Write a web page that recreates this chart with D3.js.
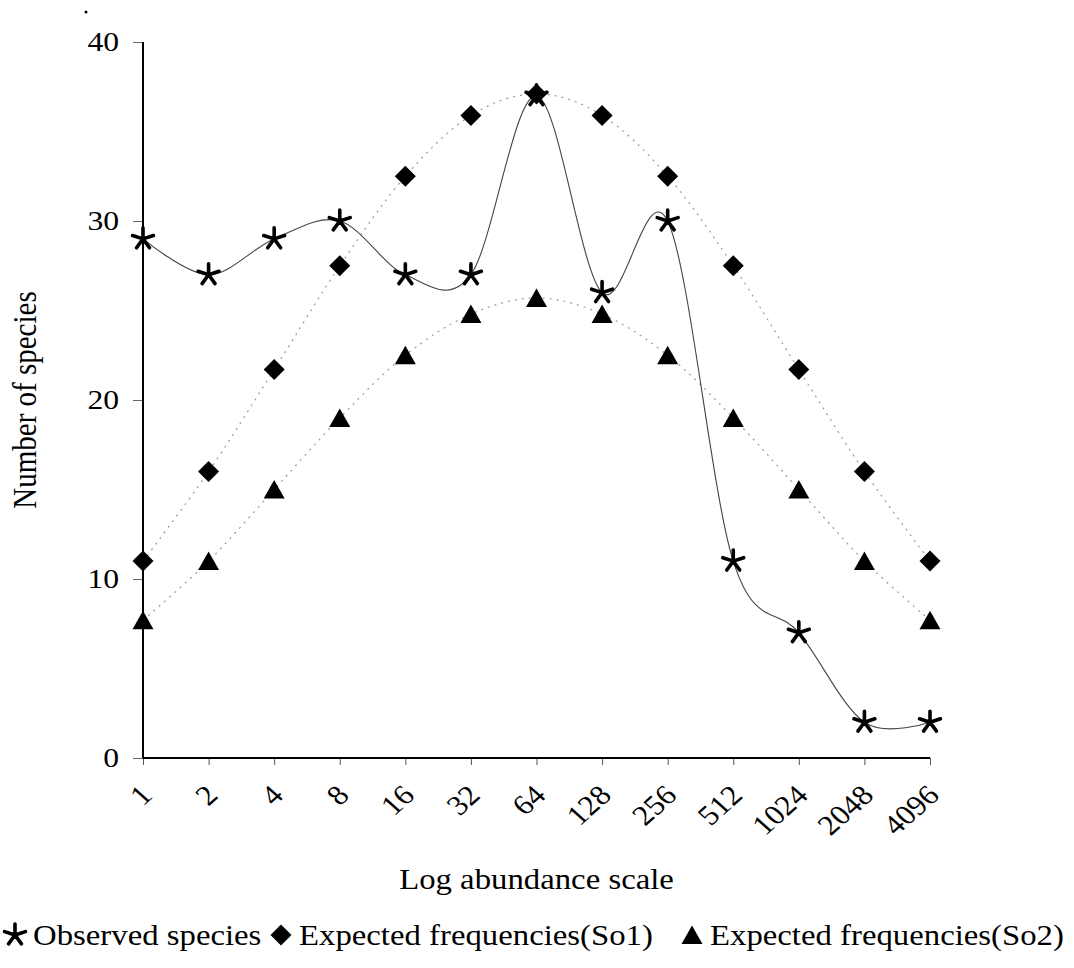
<!DOCTYPE html>
<html>
<head>
<meta charset="utf-8">
<script src="https://cdn.jsdelivr.net/npm/d3@7"></script>
<style>
  html, body { margin: 0; padding: 0; background: #fff; }
  svg { display: block; }
  text { font-family: "Liberation Serif", "Times New Roman", serif; fill: #000; }
</style>
</head>
<body>
<svg id="chart" width="1074" height="968"></svg>
<script>
// Abundance classes (octaves) on the log scale
const classes = ["1", "2", "4", "8", "16", "32", "64", "128", "256", "512", "1024", "2048", "4096"];
// Number of species per class
const observed = [29, 27, 29, 30, 27, 27, 37, 26, 30, 11, 7, 2, 2];
const expectedSo1 = [11, 16, 21.7, 27.5, 32.5, 35.9, 37.1, 35.9, 32.5, 27.5, 21.7, 16, 11];
const expectedSo2 = [7.7, 11, 15, 19, 22.5, 24.8, 25.7, 24.8, 22.5, 19, 15, 11, 7.7];
const yTicks = [0, 10, 20, 30, 40];
const legendLabels = ["Observed species", "Expected frequencies(So1)", "Expected frequencies(So2)"];

const svg = d3.select("#chart");
const plot = { left: 143, right: 930, top: 42, bottom: 758 };
const stretch = 1.13;   // wide serif lettering
const fontSize = 28;

const x = d3.scalePoint().domain(classes).range([plot.left, plot.right]);
const y = d3.scaleLinear().domain([0, 40]).range([plot.bottom, plot.top]);

// Marker shapes
const asteriskPath = (() => {
  const r = 11;
  let p = "";
  for (let i = 0; i < 5; i++) {
    const a = -Math.PI / 2 + i * 2 * Math.PI / 5;
    p += `M0,0L${(r * Math.cos(a)).toFixed(2)},${(r * Math.sin(a)).toFixed(2)}`;
  }
  return p;
})();
const diamondPath = "M0,-10.5L10.5,0L0,10.5L-10.5,0Z";
const trianglePath = "M0,-9.5L10.5,9L-10.5,9Z";

function drawAsterisk(g, cx, cy) {
  g.append("path")
    .attr("d", asteriskPath)
    .attr("transform", `translate(${cx},${cy})`)
    .attr("fill", "none")
    .attr("stroke", "#000")
    .attr("stroke-width", 3.6)
    .attr("stroke-linecap", "round");
}
function drawFilled(g, d, cx, cy) {
  g.append("path").attr("d", d).attr("transform", `translate(${cx},${cy})`).attr("fill", "#000");
}

// Y axis ticks and labels
const yAxis = d3.axisLeft(y).tickValues(yTicks).tickSize(10).tickPadding(0).tickFormat(d3.format("d"));
const gy = svg.append("g").attr("transform", `translate(${plot.left},0)`).call(yAxis);
gy.select(".domain").remove();
gy.selectAll(".tick line").attr("stroke", "#666").attr("stroke-width", 1);
gy.selectAll(".tick text")
  .attr("x", null)
  .attr("transform", `translate(-24,0) scale(${stretch},1)`)
  .attr("font-size", fontSize)
  .style("font-family", "Liberation Serif");

// X axis ticks
const xAxis = d3.axisBottom(x).tickSize(7).tickFormat("");
const gx = svg.append("g").attr("transform", `translate(0,${plot.bottom})`).call(xAxis);
gx.select(".domain").remove();
gx.selectAll(".tick line").attr("stroke", "#555").attr("stroke-width", 1);

// Rotated category labels
svg.append("g").selectAll("text")
  .data(classes)
  .join("text")
  .attr("transform", d => `translate(${x(d) + 3},${plot.bottom + 32}) scale(${stretch},1) rotate(-45)`)
  .attr("text-anchor", "end")
  .attr("dy", "0.35em")
  .attr("font-size", fontSize)
  .text(d => d);

// Axis lines
svg.append("line").attr("x1", plot.left).attr("x2", plot.left).attr("y1", plot.top).attr("y2", plot.bottom)
  .attr("stroke", "#000").attr("stroke-width", 2);
svg.append("line").attr("x1", plot.left).attr("x2", plot.right).attr("y1", plot.bottom).attr("y2", plot.bottom)
  .attr("stroke", "#000").attr("stroke-width", 2);

// Smoothed series lines
const line = d3.line()
  .x((d, i) => x(classes[i]))
  .y(d => y(d))
  .curve(d3.curveCardinal.tension(0));

svg.append("path").datum(expectedSo1).attr("d", line)
  .attr("fill", "none").attr("stroke", "#999").attr("stroke-width", 1.2).attr("stroke-dasharray", "2,5");
svg.append("path").datum(expectedSo2).attr("d", line)
  .attr("fill", "none").attr("stroke", "#999").attr("stroke-width", 1.2).attr("stroke-dasharray", "2,5");
svg.append("path").datum(observed).attr("d", line)
  .attr("fill", "none").attr("stroke", "#444").attr("stroke-width", 1.1);

// Markers
const gm = svg.append("g");
expectedSo1.forEach((v, i) => drawFilled(gm, diamondPath, x(classes[i]), y(v)));
expectedSo2.forEach((v, i) => drawFilled(gm, trianglePath, x(classes[i]), y(v)));
observed.forEach((v, i) => drawAsterisk(gm, x(classes[i]), y(v)));

// Axis titles
svg.append("text")
  .attr("transform", `translate(${(plot.left + plot.right) / 2},889) scale(${stretch},1)`)
  .attr("text-anchor", "middle").attr("font-size", 29)
  .text("Log abundance scale");
svg.append("text")
  .attr("transform", `translate(36,${(plot.top + plot.bottom) / 2}) scale(${stretch},1) rotate(-90)`)
  .attr("text-anchor", "middle").attr("font-size", 29)
  .text("Number of species");

// Small mark above the value axis
svg.append("circle").attr("cx", 86).attr("cy", 12).attr("r", 1.5).attr("fill", "#000");

// Legend
const legendX = [15, 281, 692];
const lg = svg.append("g").attr("transform", "translate(0,945)");
const markerDraw = [
  (g, px) => drawAsterisk(g, px, -10),
  (g, px) => drawFilled(g, diamondPath, px, -10),
  (g, px) => drawFilled(g, trianglePath, px, -10)
];
legendLabels.forEach((label, i) => {
  markerDraw[i](lg, legendX[i]);
  lg.append("text")
    .attr("transform", `translate(${legendX[i] + 18},0) scale(${stretch},1)`)
    .attr("font-size", 29)
    .text(label);
});
</script>
</body>
</html>
